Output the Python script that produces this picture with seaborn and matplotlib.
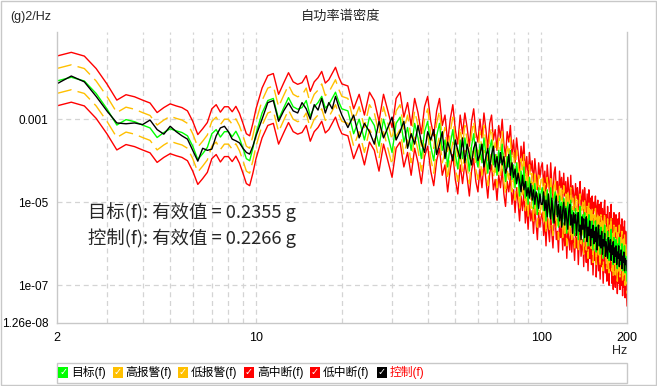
import numpy as np
import pandas as pd
import matplotlib
matplotlib.use("Agg")
import matplotlib.pyplot as plt
import seaborn as sns
from matplotlib.patches import Rectangle
from matplotlib.ticker import NullLocator, FixedLocator, NullFormatter

# ---------------- data ----------------
# frequency bins (Hz)
FREQ = np.concatenate([
    np.arange(2.0, 10.01, 0.25),
    np.arange(10.5, 20.01, 0.5),
    np.arange(21.0, 200.01, 1.0),
])

# target PSD, dB re 1 g^2/Hz
TARGET_A = [-20.8, -19.9, -20.8, -23.8, -27.5, -31.4, -30.1, -30.6, -31.4, -32.1,
            -34.4, -33.2, -32.3, -32.8, -33.2, -34.0, -36.5, -39.7, -38.3, -36.8,
            -33.5, -32.5, -34.3, -33.0, -33.0, -34.2, -32.9, -34.6, -37.0, -39.5,
            -40.0, -37.0, -33.5]
TARGET_B = [-28.5, -25.5, -25.0, -30.0, -27.3, -24.8, -27.0, -27.6, -27.2, -25.5,
            -29.3, -27.0, -26.0, -24.5, -27.3, -26.5, -25.0, -23.5, -25.8, -27.5]
TARGET_C = [-28.0, -33.5, -30.0, -35.0, -29.5, -31.5, -36.5, -30.0, -34.0, -38.0,
            -31.0, -29.5, -35.5, -32.0, -37.5, -31.0, -34.5, -39.5, -33.0, -30.5,
            -36.5, -40.0, -34.0, -31.0, -37.5, -35.0, -41.5, -36.0, -32.5, -38.5,
            -42.0, -35.0, -39.5, -34.5, -38.0, -42.5, -36.5, -33.5, -39.0, -41.5,
            -36.0, -40.5, -34.5, -38.5, -43.0, -37.0, -35.0, -41.0, -38.5, -43.5,
            -37.5, -40.5, -36.0, -42.0, -45.0, -39.0, -41.5, -37.5, -44.5, -41.0,
            -46.5, -40.5, -44.0, -48.5, -42.5, -46.0, -41.5, -49.0, -45.0, -50.5,
            -44.0, -48.5, -46.0, -51.5, -45.5, -49.0, -53.0, -46.5, -50.0, -47.5]
TARGET_D = [-46.5, -52.0, -48.5, -54.5, -47.0, -50.5, -53.5, -46.5, -51.5, -55.0,
            -49.0, -47.5, -53.0, -51.0, -56.0, -48.5, -52.5, -50.0, -55.5, -49.0,
            -54.5, -51.0, -57.5, -50.0, -53.0, -55.5, -49.5, -56.0, -52.0, -54.0,
            -58.0, -51.5, -55.0, -52.5, -59.0, -53.5, -51.0, -57.0, -55.0, -53.0,
            -59.5, -52.5, -56.0, -58.5, -54.0, -60.5, -53.0, -57.5, -55.0, -59.0,
            -54.5, -61.5, -56.0, -58.0, -54.5, -62.0, -57.0, -55.5, -60.5, -56.5,
            -62.5, -56.0, -59.5, -57.5, -63.5, -58.0, -55.5, -61.0, -59.0, -63.0,
            -57.0, -61.5, -64.0, -58.5, -60.5, -56.5, -63.5, -60.0, -65.0, -58.5,
            -62.0, -64.5, -59.0, -61.0, -66.0, -60.0, -63.5, -58.5, -65.0, -61.5,
            -64.0, -60.0, -66.5, -62.0, -64.5, -60.5, -67.0, -63.0, -65.5, -69.0]

# control PSD, dB re 1 g^2/Hz
CONTROL_A = [-21.5, -19.6, -21.0, -24.5, -28.0, -30.9, -31.1, -30.9, -31.3, -30.2,
             -32.5, -33.6, -31.7, -33.0, -34.0, -34.8, -37.5, -40.1, -37.0, -37.5,
             -37.2, -34.0, -32.1, -31.7, -33.0, -34.8, -35.2, -35.7, -37.0, -38.0,
             -38.4, -36.5, -34.0]
CONTROL_B = [-30.0, -26.0, -25.5, -30.5, -28.0, -26.1, -28.0, -28.5, -26.0, -27.5,
             -30.0, -26.5, -27.8, -25.0, -28.5, -26.0, -27.5, -24.5, -27.0, -29.0]
CONTROL_C = [-32.0, -29.0, -34.5, -31.0, -33.0, -36.0, -30.5, -34.5, -32.0, -29.5,
             -35.0, -33.0, -30.5, -37.0, -33.5, -36.0, -31.5, -35.5, -38.0, -33.0,
             -35.0, -32.5, -38.5, -36.0, -33.0, -39.5, -35.5, -37.5, -40.0, -35.0,
             -37.5, -39.5, -34.5, -40.5, -36.0, -38.5, -41.0, -37.0, -35.5, -40.0,
             -38.5, -36.0, -41.5, -39.0, -37.0, -42.0, -38.5, -36.5, -41.5, -39.0,
             -42.5, -38.0, -41.0, -39.0, -43.0, -41.5, -38.5, -43.5, -40.5, -44.0,
             -42.0, -45.5, -43.0, -45.0, -47.5, -43.5, -47.0, -45.0, -48.5, -46.5,
             -49.0, -45.5, -49.5, -47.0, -50.5, -47.5, -49.0, -51.5, -48.0, -50.5]
CONTROL_D = [-50.5, -47.5, -52.0, -49.5, -53.5, -48.0, -51.5, -54.0, -49.0, -52.5,
             -55.0, -50.0, -48.5, -53.5, -50.5, -54.5, -51.0, -56.0, -52.0, -50.0,
             -55.5, -51.5, -54.0, -56.5, -52.0, -50.5, -55.5, -53.0, -57.5, -52.5,
             -55.0, -53.0, -58.0, -54.5, -52.5, -57.0, -55.5, -59.0, -53.5, -56.5,
             -54.0, -58.5, -55.5, -53.5, -59.5, -56.0, -58.0, -54.5, -60.5, -56.5,
             -58.5, -55.5, -60.0, -57.0, -59.5, -56.0, -61.5, -57.5, -55.5, -60.5,
             -58.0, -61.0, -57.0, -62.5, -59.0, -60.5, -57.5, -63.0, -59.5, -61.5,
             -63.5, -58.5, -61.0, -62.0, -59.0, -64.0, -60.5, -62.5, -59.5, -64.5,
             -61.0, -63.0, -60.5, -65.0, -62.0, -63.5, -60.5, -65.5, -62.5, -64.0,
             -61.5, -66.0, -63.0, -64.5, -62.0, -66.5, -63.5, -65.0, -64.0, -66.5]

ALARM_DB = 3.0   # alarm limits: target +/- 3 dB
ABORT_DB = 6.0   # abort limits: target +/- 6 dB

LEGEND_LABELS = ["目标(f)", "高报警(f)", "低报警(f)", "高中断(f)", "低中断(f)", "控制(f)"]
RMS_TEXT = ["目标(f): 有效值 = 0.2355 g", "控制(f): 有效值 = 0.2266 g"]
Y_TICKS = [0.1259, 0.001, 1e-05, 1e-07, 1.26e-08]
Y_TICK_LABELS = ["0.1259", "0.001", "1e-05", "1e-07", "1.26e-08"]
X_TICKS = [2, 10, 100, 200]
X_TICK_LABELS = ["2", "10", "100", "200"]

# ---------------- build table ----------------
target_db = np.array(TARGET_A + TARGET_B + TARGET_C + TARGET_D)
control_db = np.array(CONTROL_A + CONTROL_B + CONTROL_C + CONTROL_D)
df = pd.DataFrame({
    "f": FREQ,
    "target": 10 ** (target_db / 10),
    "hi_alarm": 10 ** ((target_db + ALARM_DB) / 10),
    "lo_alarm": 10 ** ((target_db - ALARM_DB) / 10),
    "hi_abort": 10 ** ((target_db + ABORT_DB) / 10),
    "lo_abort": 10 ** ((target_db - ABORT_DB) / 10),
    "control": 10 ** (control_db / 10),
})

# ---------------- style ----------------
sns.set_style("white")
plt.rcParams["font.family"] = ["Liberation Sans", "Noto Sans CJK SC", "DejaVu Sans"]

W, H = 657, 386
fig = plt.figure(figsize=(W / 100, H / 100), dpi=100)

def fx(x):
    return x / W

def fy(y):
    return 1 - y / H

ax = fig.add_axes([fx(56.7), fy(322.7), fx(627) - fx(56.7), fy(32) - fy(322.7)])
ax.set_xscale("log")
ax.set_yscale("log")

GREEN = "#00ff00"
YELLOW = "#ffc000"
RED = "#ff0000"
BLACK = "#000000"
dash = (0, (11, 4.5))

series = [
    ("hi_abort", RED, "-"),
    ("lo_abort", RED, "-"),
    ("hi_alarm", YELLOW, dash),
    ("lo_alarm", YELLOW, dash),
    ("target", GREEN, "-"),
    ("control", BLACK, "-"),
]
for col, color, ls in series:
    sns.lineplot(data=df, x="f", y=col, ax=ax, color=color, linewidth=1.0,
                 linestyle=ls, estimator=None, sort=False, legend=False)

ax.set_xlim(2, 200)
ax.set_ylim(10 ** -7.9, 10 ** -0.9)
ax.set_xlabel("")
ax.set_ylabel("")

# ticks
ax.yaxis.set_major_locator(FixedLocator(Y_TICKS))
ax.set_yticklabels(Y_TICK_LABELS)
ax.yaxis.set_minor_locator(NullLocator())
ax.xaxis.set_major_locator(FixedLocator(X_TICKS))
ax.set_xticklabels(X_TICK_LABELS)
minor_x = [3, 4, 5, 6, 7, 8, 9, 20, 30, 40, 50, 60, 70, 80, 90]
ax.xaxis.set_minor_locator(FixedLocator(minor_x))
ax.xaxis.set_minor_formatter(NullFormatter())
ax.tick_params(axis="both", which="both", length=4.5, width=0.8, color="#c8c8c8",
               labelsize=9, labelcolor="black", pad=2)
ax.tick_params(axis="y", labelsize=8.5, pad=1.5)

# grid
gridc = "#d4d4d4"
for v in [3, 4, 5, 6, 7, 8, 9, 10, 20, 30, 40, 50, 60, 70, 80, 90, 100]:
    ax.axvline(v, color=gridc, lw=0.9, ls=(0, (4, 3)), zorder=0)
for v in [1e-3, 1e-5, 1e-7]:
    ax.axhline(v, color=gridc, lw=0.9, ls=(0, (4, 3)), zorder=0)

for s in ["left", "bottom", "right"]:
    ax.spines[s].set_color("#c8c8c8")
    ax.spines[s].set_linewidth(1.0)
ax.spines["top"].set_visible(False)

# texts
fig.text(fx(341), fy(17), "自功率谱密度", ha="center", va="center", fontsize=9.5)
fig.text(fx(10), fy(17), "(g)2/Hz", ha="left", va="center", fontsize=9)
fig.text(fx(620), fy(351), "Hz", ha="center", va="center", fontsize=9)
for i, t in enumerate(RMS_TEXT):
    fig.text(fx(88), fy(212 + 26 * i), t, ha="left", va="center", fontsize=13.2,
             family=["Noto Sans CJK SC", "DejaVu Sans"])

# legend box
fig.add_artist(Rectangle((fx(56.5), fy(382.7)), fx(627) - fx(56.5), fy(363.3) - fy(382.7),
                         transform=fig.transFigure, fill=False, edgecolor="#c8c8c8", lw=1.0))
leg_colors = [GREEN, YELLOW, YELLOW, RED, RED, BLACK]
leg_x = [58.3, 112.7, 178.0, 244.0, 310.0, 376.7]
for lbl, c, x in zip(LEGEND_LABELS, leg_colors, leg_x):
    fig.add_artist(Rectangle((fx(x), fy(377.7)), fx(10), fy(366.7) - fy(377.7),
                             transform=fig.transFigure, facecolor=c, edgecolor=c, lw=0))
    fig.text(fx(x + 5), fy(372.3), "✓", ha="center", va="center", fontsize=7,
             color="white", family=["DejaVu Sans"], fontweight="bold")
    fig.text(fx(x + 13), fy(372.3), lbl, ha="left", va="center", fontsize=8.5,
             color=("red" if lbl == "控制(f)" else "black"))

# outer border
fig.add_artist(Rectangle((0.002, 0.003), 0.996, 0.994, transform=fig.transFigure,
                         fill=False, edgecolor="#c8c8c8", lw=1.0))

fig.savefig("out.png", dpi=100)
